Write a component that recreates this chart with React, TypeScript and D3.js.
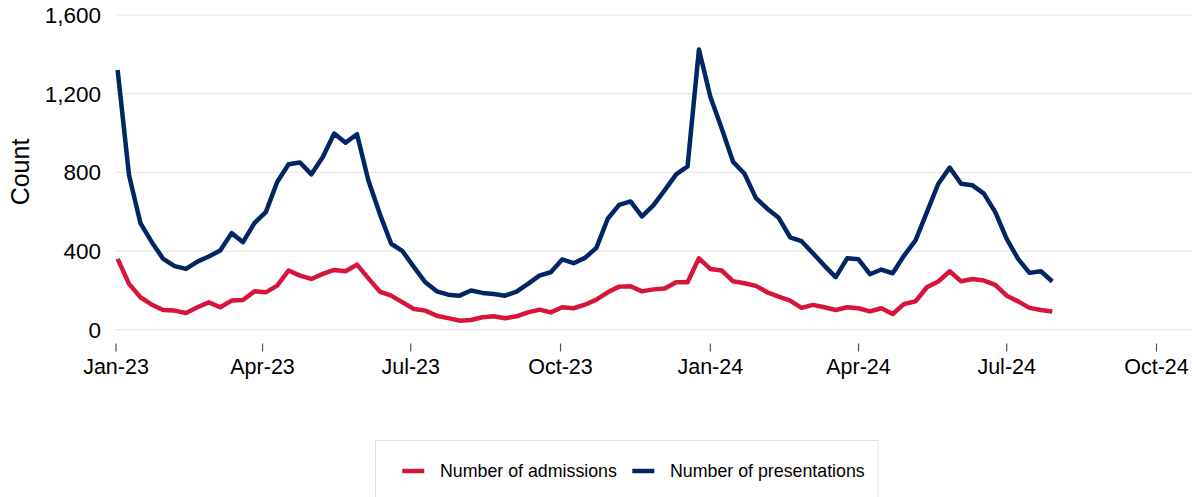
import React from "react";
import * as d3 from "d3";

const START_DATE = new Date(2023, 0, 2);

const presentations: number[] = [
  1320, 785, 542, 445, 360, 323, 309, 346, 372, 403, 491, 445, 542, 598, 751, 841, 850,
  790, 878, 997, 951, 994, 759, 589, 437, 399, 318, 241, 195, 178, 173, 199, 187,
  182, 173, 194, 233, 275, 292, 357, 338, 365, 416, 564, 635, 652, 576, 632, 710,
  790, 830, 1425, 1184, 1023, 853, 793, 669, 615, 569, 470, 450, 389, 326, 267, 363,
  358, 282, 306, 287, 377, 454, 598, 742, 824, 742, 734, 692, 598, 462, 360, 289,
  297, 245,
];

const admissions: number[] = [
  360, 233, 165, 127, 100, 97, 85, 114, 139, 114, 148, 151, 195, 190, 224, 301, 275,
  258, 284, 304, 297, 331, 261, 194, 173, 139, 105, 97, 71, 59, 46, 49, 63,
  68, 58, 68, 88, 102, 88, 114, 109, 127, 153, 190, 219, 221, 195, 205, 210,
  241, 241, 363, 309, 301, 246, 236, 223, 190, 168, 148, 111, 126, 114, 100, 114,
  109, 93, 109, 80, 131, 144, 216, 245, 297, 246, 258, 250, 228, 173, 144, 111,
  100, 93,
];

const yTicks: number[] = [0, 400, 800, 1200, 1600];
const xTickDates: Date[] = [
  new Date(2023, 0, 1),
  new Date(2023, 3, 1),
  new Date(2023, 6, 1),
  new Date(2023, 9, 1),
  new Date(2024, 0, 1),
  new Date(2024, 3, 1),
  new Date(2024, 6, 1),
  new Date(2024, 9, 1),
];

const seriesNames = ["Number of admissions", "Number of presentations"];
const colors = ["#D7153A", "#002664"];

const W = 1192;
const H = 497;
const FONT = "'Liberation Sans', Arial, sans-serif";

export default function App() {
  const dates = presentations.map((_, i) => d3.timeDay.offset(START_DATE, i * 7));
  const x = d3
    .scaleTime()
    .domain([new Date(2023, 0, 1), new Date(2024, 9, 1)])
    .range([116, 1156.5]);
  const y = d3.scaleLinear().domain([0, 1600]).range([329.7, 15]);
  const fmtY = d3.format(",");
  const fmtX = d3.timeFormat("%b-%y");

  const line = d3
    .line<number>()
    .x((_, i) => x(dates[i]))
    .y((d) => y(d));

  const series = [admissions, presentations];

  return (
    <svg
      width={W}
      height={H}
      style={{ position: "absolute", left: 0, top: 0, background: "#fff" }}
      fontFamily={FONT}
    >
      <rect x={0} y={0} width={W} height={H} fill="#fff" />
      {yTicks.map((t) => (
        <g key={t}>
          <line x1={115} x2={1192} y1={y(t)} y2={y(t)} stroke="#e6e6e6" strokeWidth={1.2} />
          <text
            x={101}
            y={y(t)}
            dy="0.35em"
            textAnchor="end"
            fontSize={22.5}
            fill="#000"
          >
            {fmtY(t)}
          </text>
        </g>
      ))}
      {xTickDates.map((d, i) => (
        <g key={i}>
          <line x1={x(d)} x2={x(d)} y1={343.5} y2={351.5} stroke="#555" strokeWidth={1.2} />
          <text x={x(d)} y={373.5} textAnchor="middle" fontSize={21.5} fill="#000">
            {fmtX(d)}
          </text>
        </g>
      ))}
      <text
        transform="translate(20,172) rotate(-90)"
        dy="0.35em"
        textAnchor="middle"
        fontSize={25}
        fill="#000"
      >
        Count
      </text>
      {series.map((s, i) => (
        <path
          key={i}
          d={line(s) || ""}
          fill="none"
          stroke={colors[i]}
          strokeWidth={4.5}
          strokeLinejoin="round"
        />
      ))}
      <rect x={375.5} y={440.5} width={502.5} height={70} fill="#fff" stroke="#e0e0e0" strokeWidth={1} />
      {seriesNames.map((name, i) => {
        const sx = i === 0 ? 402.3 : 632.3;
        return (
          <g key={name}>
            <line x1={sx} x2={sx + 22} y1={471} y2={471} stroke={colors[i]} strokeWidth={4.5} />
            <text x={sx + 37.7} y={471} dy="0.35em" fontSize={17.8} fill="#000">
              {name}
            </text>
          </g>
        );
      })}
    </svg>
  );
}
